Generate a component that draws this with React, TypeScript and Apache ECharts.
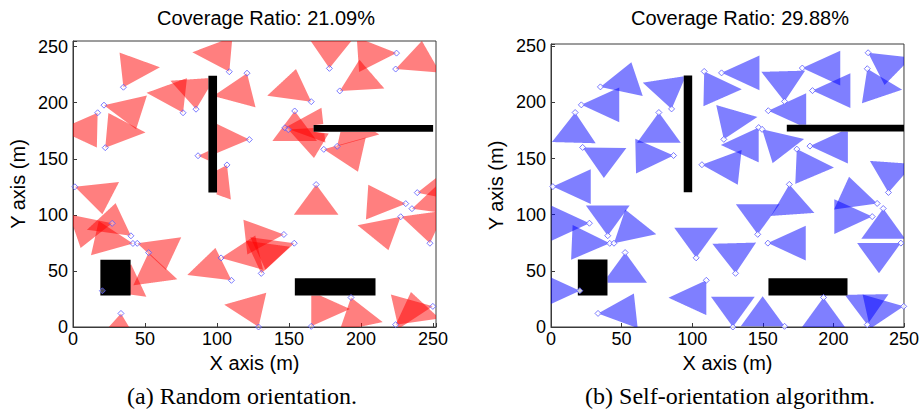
import React, { useEffect, useRef } from "react";
import * as echarts from "echarts";

// Sensor positions (same deployment in both panels), metres
const SENSOR_X = [35.0, 21.5, 17.1, 22.4, 76.4, 85.4, 108.5, 120.8, 122.4, 86.8, 106.9, 1.3, 178.0, 185.2, 224.6, 224.0, 165.4, 153.9, 147.1, 149.5, 174.1, 183.4, 168.8, 239.0, 231.0, 235.3, 227.5, 247.8, 146.4, 153.6, 130.7, 102.8, 110.0, 193.0, 165.4, 128.8, 224.0, 249.8, 33.3, 20.4, 27.2, 40.2, 41.6, 44.6, 52.5];
const SENSOR_Y = [213.8, 197.8, 191.0, 159.9, 191.0, 194.2, 227.6, 226.3, 167.1, 152.7, 144.5, 125.0, 230.6, 210.5, 244.2, 230.0, 200.9, 192.6, 177.6, 176.0, 158.4, 161.1, 127.0, 119.8, 110.0, 105.5, 98.3, 74.7, 82.5, 74.7, 47.8, 61.6, 41.6, 26.3, 0.6, 0.0, 2.1, 18.4, 12.1, 32.3, 92.4, 81.3, 74.5, 74.6, 66.3];
// Orientation (degrees, counter-clockwise from +x)
const ORIENT_RANDOM = [65, -14, -121, 56, 115, 95, 116, -109, 178, 0, -115, -22, 88, 34, 183, 24, 140, -90, 5, -25, -10, 50, -90, 15, 177, 20, -136, 100, 185, 200, 80, 10, 141, -75, 60, 110, 40, 190, -95, 20, 195, 140, 170, -20, -80];
const ORIENT_SELF = [15, 0, -92, -31, -90, 101, -61, 0, 70, 181, -5, 0, 0, 0, -38, -67, 92, 0, -120, -46, -62, 0, -85, 85, 160, -90, 180, -150, 90, 0, 92, 90, -120, -90, 150, 90, 91, 190, 5, 180, 180, 90, 178, 45, -90];

// Obstacles [x0, x1, y0, y1]
const OBSTACLE_X0 = [94, 167, 19, 154];
const OBSTACLE_X1 = [100, 250, 40, 210];
const OBSTACLE_Y0 = [120, 174, 28, 28];
const OBSTACLE_Y1 = [224, 180, 60, 43.5];

const TITLES = ["Coverage Ratio: 21.09%", "Coverage Ratio: 29.88%"];
const CAPTIONS = ["(a) Random orientation.", "(b) Self-orientation algorithm."];

const RADIUS = 31;
const HALF_ANGLE = 30;
const RAYS = 120;

const SANS = "Liberation Sans, Arial, sans-serif";
const SERIF = "Liberation Serif, Times New Roman, serif";

function hitFraction(px: number, py: number, bx: number, by: number): number {
  let best = 1;
  for (let i = 0; i < OBSTACLE_X0.length; i++) {
    const x0 = OBSTACLE_X0[i], x1 = OBSTACLE_X1[i], y0 = OBSTACLE_Y0[i], y1 = OBSTACLE_Y1[i];
    if (px >= x0 && px <= x1 && py >= y0 && py <= y1) continue;
    const dx = bx - px, dy = by - py;
    let tmin = 0, tmax = 1;
    let ok = true;
    if (Math.abs(dx) < 1e-9) {
      if (px < x0 || px > x1) ok = false;
    } else {
      let t1 = (x0 - px) / dx, t2 = (x1 - px) / dx;
      if (t1 > t2) { const t = t1; t1 = t2; t2 = t; }
      tmin = Math.max(tmin, t1); tmax = Math.min(tmax, t2);
    }
    if (ok) {
      if (Math.abs(dy) < 1e-9) {
        if (py < y0 || py > y1) ok = false;
      } else {
        let t1 = (y0 - py) / dy, t2 = (y1 - py) / dy;
        if (t1 > t2) { const t = t1; t1 = t2; t2 = t; }
        tmin = Math.max(tmin, t1); tmax = Math.min(tmax, t2);
      }
    }
    if (ok && tmin <= tmax && tmin < best) best = tmin;
  }
  return best;
}

function sectorRenderer(fill: string) {
  return (params: any, api: any) => {
    const px = api.value(0), py = api.value(1);
    const th = (api.value(2) * Math.PI) / 180;
    const h = (HALF_ANGLE * Math.PI) / 180;
    const v1x = px + RADIUS * Math.cos(th - h), v1y = py + RADIUS * Math.sin(th - h);
    const v2x = px + RADIUS * Math.cos(th + h), v2y = py + RADIUS * Math.sin(th + h);
    const pts: number[][] = [api.coord([px, py])];
    for (let k = 0; k <= RAYS; k++) {
      const t = k / RAYS;
      const bx = v1x + t * (v2x - v1x), by = v1y + t * (v2y - v1y);
      const s = hitFraction(px, py, bx, by);
      pts.push(api.coord([px + s * (bx - px), py + s * (by - py)]));
    }
    return { type: "polygon", shape: { points: pts }, style: { fill } };
  };
}

function obstacleRenderer(params: any, api: any) {
  const a = api.coord([api.value(0), api.value(3)]);
  const b = api.coord([api.value(1), api.value(2)]);
  return { type: "rect", shape: { x: a[0], y: a[1], width: b[0] - a[0], height: b[1] - a[1] }, style: { fill: "#000" } };
}

export default function App() {
  const ref = useRef<HTMLDivElement>(null);
  useEffect(() => {
    if (!ref.current) return;
    const chart = echarts.init(ref.current, undefined, { renderer: "svg" });
    const sensorsRandom = SENSOR_X.map((x, i) => [x, SENSOR_Y[i], ORIENT_RANDOM[i]]);
    const sensorsSelf = SENSOR_X.map((x, i) => [x, SENSOR_Y[i], ORIENT_SELF[i]]);
    const points = SENSOR_X.map((x, i) => [x, SENSOR_Y[i]]);
    const obstacles = OBSTACLE_X0.map((x, i) => [x, OBSTACLE_X1[i], OBSTACLE_Y0[i], OBSTACLE_Y1[i]]);

    const frame = "#3a3a3a";
    const mkX = (gridIndex: number, max: number) => ({
      type: "value", gridIndex, min: 0, max, interval: 50,
      name: "X axis (m)", nameLocation: "middle", nameGap: 17,
      nameTextStyle: { fontSize: 20, fontFamily: SANS, color: "#000" },
      axisLine: { show: true, lineStyle: { color: frame, width: 1 } },
      axisTick: { show: true, inside: true, length: 4, lineStyle: { color: frame } },
      axisLabel: { fontSize: 18, fontFamily: SANS, color: "#000", margin: 3, formatter: (v: number) => (v % 50 === 0 ? String(v) : "") },
      splitLine: { show: false },
    });
    const mkY = (gridIndex: number, max: number) => ({
      type: "value", gridIndex, min: 0, max, interval: 50,
      name: "Y axis (m)", nameLocation: "middle", nameGap: 45, nameRotate: 90,
      nameTextStyle: { fontSize: 20, fontFamily: SANS, color: "#000" },
      axisLine: { show: true, lineStyle: { color: frame, width: 1 } },
      axisTick: { show: true, inside: true, length: 4, lineStyle: { color: frame } },
      axisLabel: { fontSize: 18, fontFamily: SANS, color: "#000", margin: 5, formatter: (v: number) => (v % 50 === 0 ? String(v) : "") },
      splitLine: { show: false },
    });

    const marker = (xAxisIndex: number, fillColor: string) => ({
      type: "scatter", xAxisIndex, yAxisIndex: xAxisIndex, data: points, symbol: "diamond", symbolSize: 6, z: 5,
      itemStyle: { color: fillColor, borderColor: "#5a5aff", borderWidth: 1 }, silent: true,
    });

    chart.setOption({
      animation: false,
      backgroundColor: "#fff",
      grid: [
        { left: 73, top: 41, width: 363, height: 286, show: true, borderColor: frame, borderWidth: 1, backgroundColor: "#fff" },
        { left: 551, top: 44, width: 359, height: 283, show: true, borderColor: frame, borderWidth: 1, backgroundColor: "#fff" },
      ],
      xAxis: [mkX(0, 252), mkX(1, 250)],
      yAxis: [mkY(0, 255), mkY(1, 252)],
      graphic: [
        { type: "text", x: 266, y: 18, style: { text: TITLES[0], fontSize: 20, fontFamily: SANS, fill: "#000", textAlign: "center", textVerticalAlign: "middle" } },
        { type: "text", x: 740, y: 18, style: { text: TITLES[1], fontSize: 20, fontFamily: SANS, fill: "#000", textAlign: "center", textVerticalAlign: "middle" } },
        { type: "text", x: 242, y: 396, style: { text: CAPTIONS[0], fontSize: 24, fontFamily: SERIF, fill: "#000", textAlign: "center", textVerticalAlign: "middle" } },
        { type: "text", x: 730, y: 396, style: { text: CAPTIONS[1], fontSize: 24, fontFamily: SERIF, fill: "#000", textAlign: "center", textVerticalAlign: "middle" } },
      ],
      series: [
        { type: "custom", xAxisIndex: 0, yAxisIndex: 0, data: sensorsRandom, renderItem: sectorRenderer("rgba(255,0,0,0.5)"), clip: true, z: 2, silent: true },
        { type: "custom", xAxisIndex: 1, yAxisIndex: 1, data: sensorsSelf, renderItem: sectorRenderer("rgba(0,0,255,0.5)"), clip: true, z: 2, silent: true },
        { type: "custom", xAxisIndex: 0, yAxisIndex: 0, data: obstacles, renderItem: obstacleRenderer, clip: true, z: 3, silent: true },
        { type: "custom", xAxisIndex: 1, yAxisIndex: 1, data: obstacles, renderItem: obstacleRenderer, clip: true, z: 3, silent: true },
        marker(0, "rgba(255,255,255,0.35)"),
        marker(1, "#ffffff"),
      ],
    });
    return () => chart.dispose();
  }, []);
  return <div ref={ref} style={{ position: "fixed", left: 0, top: 0, width: 922, height: 411, background: "#fff" }} />;
}
